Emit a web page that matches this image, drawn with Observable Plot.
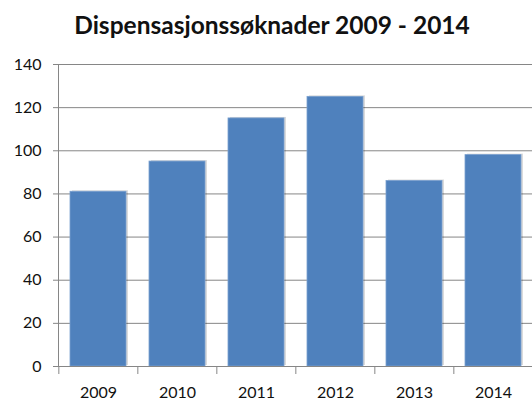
<!DOCTYPE html>
<html>
<head>
<meta charset="utf-8">
<script src="https://cdn.jsdelivr.net/npm/d3@7"></script>
<script src="https://cdn.jsdelivr.net/npm/@observablehq/plot@0.6"></script>
<style>
  body { margin: 0; background: #fff; font-family: Lato, "Open Sans", sans-serif; }
  #title { box-sizing: border-box; width: 532px; height: 48px; padding-top: 10px; padding-left: 12px;
           text-align: center; font-size: 24.5px; font-weight: bold; color: #111; line-height: normal; }
  svg { display: block; }
</style>
</head>
<body>
<div id="title">Dispensasjonssøknader 2009 - 2014</div>
<div id="chart"></div>
<script>
const years = ["2009", "2010", "2011", "2012", "2013", "2014"];
const counts = [81, 95, 115, 125, 86, 98];
const yTicks = [0, 20, 40, 60, 80, 100, 120, 140];

const data = years.map((y, i) => ({year: y, value: counts[i]}));
const gray = "#868686";
const left = 58, right = 534;
const step = (right - left) / years.length;

const chart = Plot.plot({
  width: 532,
  height: 353,
  marginTop: 16,
  marginBottom: 35,
  marginLeft: left,
  marginRight: 0,
  style: {fontFamily: "Lato, 'Open Sans', sans-serif", fontSize: "16px", color: "#111", overflow: "hidden"},
  x: {type: "band", domain: years, range: [left, right], paddingInner: 0.29, paddingOuter: 0.145, label: null},
  y: {domain: [0, 140], label: null},
  marks: [
    Plot.gridY(yTicks, {stroke: gray, strokeOpacity: 1}),
    Plot.barY(data, {x: "year", y: "value", fill: "#000", fillOpacity: 0.14, dx: 2, dy: -1}),
    Plot.barY(data, {x: "year", y: "value", fill: "#4f81bd", stroke: "#7aa0cf", strokeWidth: 0.8}),
    Plot.frame({anchor: "left", stroke: gray}),
    Plot.ruleY([0], {stroke: gray}),
    Plot.axisY(yTicks, {tickSize: 5, tickPadding: 12, stroke: gray, fill: "#111", label: null}),
    Plot.axisX({tickSize: 8, text: null, dx: -step / 2, stroke: gray}),
    Plot.axisX({tickSize: 0, tickPadding: 20, fill: "#111", label: null})
  ]
});
document.getElementById("chart").append(chart);
</script>
</body>
</html>
